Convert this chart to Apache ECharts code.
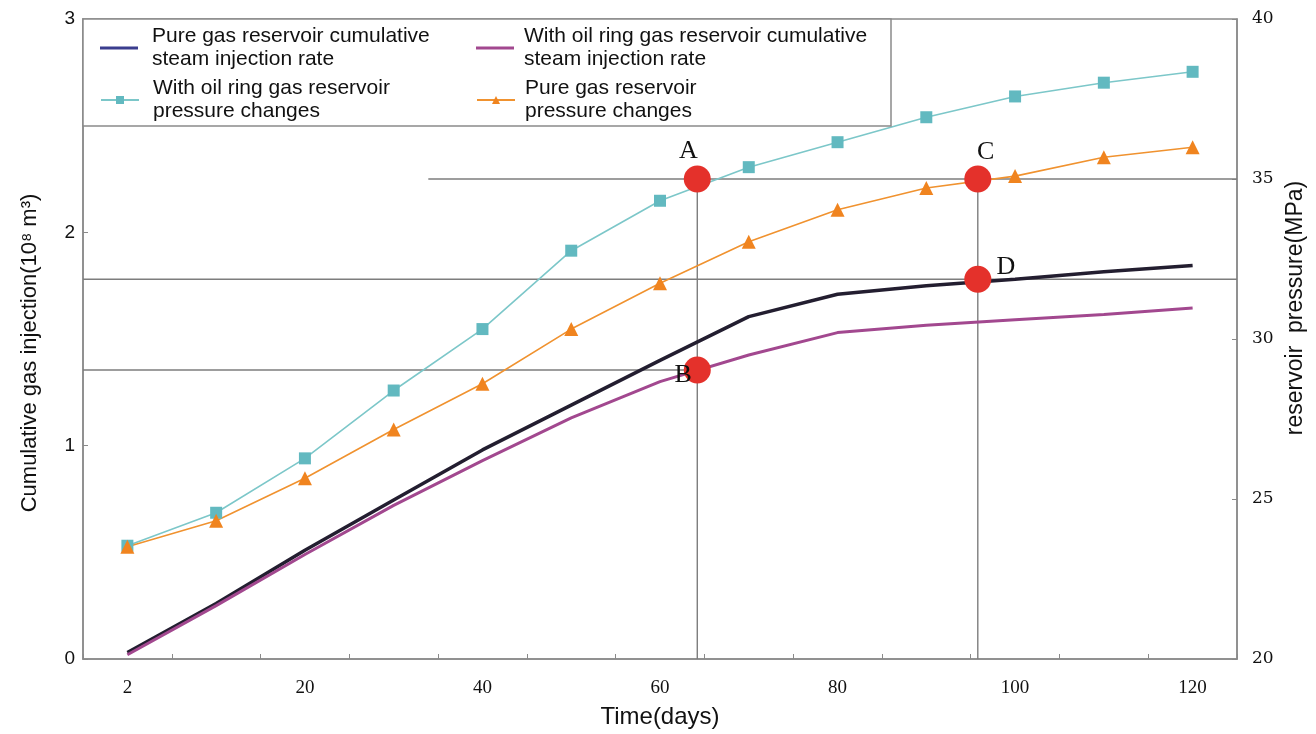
<!DOCTYPE html>
<html>
<head>
<meta charset="utf-8">
<style>html,body{margin:0;padding:0;background:#fff;}#c{width:1316px;height:734px;}</style>
<script src="https://cdn.jsdelivr.net/npm/echarts@6/dist/echarts.min.js"></script>
</head>
<body>
<div id="c"></div>
<script>
// ---- data ----
const days = ['2','10','20','30','40','50','60','70','80','90','100','110','120'];
const pureInjection = [0.03,0.26,0.51,0.745,0.98,1.19,1.40,1.605,1.71,1.75,1.78,1.815,1.845];
const ringInjection = [0.02,0.25,0.49,0.72,0.93,1.13,1.30,1.425,1.53,1.565,1.59,1.615,1.645];
const ringPressure = [23.54,24.57,26.27,28.39,30.31,32.76,34.32,35.37,36.15,36.93,37.58,38.01,38.35];
const purePressure = [23.51,24.32,25.65,27.17,28.6,30.31,31.74,33.04,34.04,34.72,35.09,35.68,35.99];
const seriesNames = [
  'Pure gas reservoir cumulative\nsteam injection rate',
  'With oil ring gas reservoir\npressure changes',
  'With oil ring gas reservoir cumulative\nsteam injection rate',
  'Pure gas reservoir\npressure changes'
];
// annotation points (day position on a 10-days-per-category scale)
const pointNames = ['A','B','C','D'];
const pointDays = [64.2, 64.2, 95.8, 95.8];
const pointValues = [35, 1.355, 35, 1.78];     // A,C on pressure axis; B,D on injection axis
const pointAxis = [1, 0, 1, 0];
const pointLabelOffset = [[-9,-28],[-14,5],[8,-27],[28,-12]];
const refPressureLine = {from: 33.9, to: 125, value: 35};
const refInjLineD = {from: -5, to: 125, value: 1.78};
const refInjLineB = {from: -5, to: 64.2, value: 1.355};

const gray = '#8a8a8a';
const chart = echarts.init(document.getElementById('c'));

function refLine(data, yIdx) {
  return {type:'line', xAxisIndex:1, yAxisIndex:yIdx, data:data, symbol:'none', silent:true,
    lineStyle:{color:'#7d7d7d', width:1.4}, z:1, animation:false};
}

const series = [
  {name:seriesNames[0], type:'line', xAxisIndex:0, yAxisIndex:0, data:pureInjection, symbol:'none',
   lineStyle:{color:'#231e30', width:3.5}, itemStyle:{color:'#231e30'}, z:3},
  {name:seriesNames[1], type:'line', xAxisIndex:0, yAxisIndex:1, data:ringPressure, symbol:'rect', symbolSize:12,
   lineStyle:{color:'#7cc7c9', width:1.6}, itemStyle:{color:'#62b9c0'}, z:3},
  {name:seriesNames[2], type:'line', xAxisIndex:0, yAxisIndex:0, data:ringInjection, symbol:'none',
   lineStyle:{color:'#a2488f', width:3}, itemStyle:{color:'#a2488f'}, z:3},
  {name:seriesNames[3], type:'line', xAxisIndex:0, yAxisIndex:1, data:purePressure, symbol:'triangle', symbolSize:14,
   lineStyle:{color:'#f0922f', width:1.6}, itemStyle:{color:'#f0841f'}, z:3},
  refLine([[refPressureLine.from, refPressureLine.value],[refPressureLine.to, refPressureLine.value]], 1),
  refLine([[refInjLineD.from, refInjLineD.value],[refInjLineD.to, refInjLineD.value]], 0),
  refLine([[refInjLineB.from, refInjLineB.value],[refInjLineB.to, refInjLineB.value]], 0),
  refLine([[pointDays[0], 20],[pointDays[0], pointValues[0]]], 1),
  refLine([[pointDays[2], 20],[pointDays[2], pointValues[2]]], 1)
];
pointNames.forEach(function(n, i){
  series.push({type:'scatter', xAxisIndex:1, yAxisIndex:pointAxis[i], data:[[pointDays[i], pointValues[i]]],
    symbol:'circle', symbolSize:27, itemStyle:{color:'#e4312b', opacity:1}, z:5, silent:true,
    label:{show:true, formatter:n, position:'inside', offset:pointLabelOffset[i],
      fontFamily:'Liberation Serif', fontSize:26, color:'#111'}});
});

function legendAt(name, left, top, pad, iconH, opts) {
  const item = Object.assign({name:name}, opts || {});
  return {data:[item], left:left, top:top, orient:'vertical', padding:0, itemWidth:38, itemHeight:iconH,
    textStyle:{fontFamily:'Liberation Sans', fontSize:21, lineHeight:23, color:'#111', padding:[0,0,0,pad]},
    selectedMode:false, z:20};
}

chart.setOption({
  animation:false,
  backgroundColor:'#fff',
  grid:{left:83, width:1154, top:19, height:644, show:true, borderColor:gray, borderWidth:1.5},
  graphic:[{type:'rect', shape:{x:83, y:19, width:808, height:107},
    style:{fill:'#fff', stroke:gray, lineWidth:1.5}, z:10, silent:true}],
  legend:[
    legendAt(seriesNames[0], 100, 25, 9, 3, {icon:'rect', itemStyle:{color:'#3a3d8e'}}),
    legendAt(seriesNames[1], 100, 77, 9, 10),
    legendAt(seriesNames[2], 476, 25, 5, 3, {icon:'rect'}),
    legendAt(seriesNames[3], 476, 77, 5, 10)
  ],
  xAxis:[
    {type:'category', data:days, boundaryGap:true,
     name:'Time(days)', nameLocation:'middle', nameGap:46,
     nameTextStyle:{fontFamily:'Liberation Sans', fontSize:24, color:'#111'},
     axisLine:{onZero:false, lineStyle:{color:gray, width:1.5}},
     axisTick:{show:true, inside:true, length:5, interval:0, lineStyle:{color:gray}},
     axisLabel:{interval:1, margin:20, fontFamily:'Liberation Serif', fontSize:19, color:'#111'},
     splitLine:{show:false}},
    {type:'value', min:-5, max:125, show:false}
  ],
  yAxis:[
    {type:'value', min:0, max:3, interval:1, position:'left',
     name:'Cumulative gas injection(10\u2078 m\u00b3)', nameLocation:'middle', nameGap:42,
     nameTextStyle:{fontFamily:'Liberation Sans', fontSize:22, color:'#111', padding:[0,28,0,0]},
     axisLine:{show:true, onZero:false, lineStyle:{color:gray, width:1.5}},
     axisTick:{show:true, inside:true, length:5, lineStyle:{color:gray}},
     axisLabel:{margin:8, fontFamily:'Liberation Sans', fontSize:19, color:'#111'},
     splitLine:{show:false}},
    {type:'value', min:20, max:40, interval:5, position:'right',
     name:'reservoir  pressure(MPa)', nameLocation:'middle', nameGap:42,
     nameTextStyle:{fontFamily:'Liberation Sans', fontSize:23, color:'#111', padding:[0,0,0,62]},
     axisLine:{show:true, onZero:false, lineStyle:{color:gray, width:1.5}},
     axisTick:{show:true, inside:true, length:5, lineStyle:{color:gray}},
     axisLabel:{margin:15, fontFamily:'DejaVu Serif', fontSize:17, color:'#111'},
     splitLine:{show:false}}
  ],
  series:series
});
</script>
</body>
</html>
